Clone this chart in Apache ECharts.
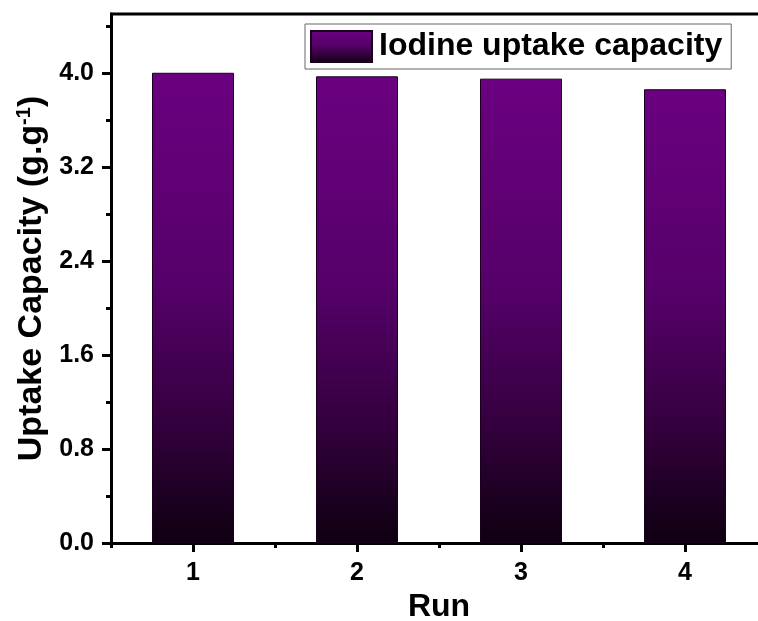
<!DOCTYPE html>
<html><head><meta charset="utf-8">
<script src="https://cdn.jsdelivr.net/npm/echarts@6/dist/echarts.min.js"></script>
<style>html,body{margin:0;padding:0;background:#fff}#c{width:758px;height:621px}</style>
</head><body><div id="c"></div>
<script>
const categories = ['1', '2', '3', '4'];
const uptake = [4.0, 3.97, 3.95, 3.86];
const seriesName = 'Iodine uptake capacity';
const yTicks = [0.0, 0.8, 1.6, 2.4, 3.2, 4.0];
const yMinorTicks = [0.4, 1.2, 2.0, 2.8, 3.6, 4.4];

const chart = echarts.init(document.getElementById('c'), null, {renderer: 'canvas'});
const grad = new echarts.graphic.LinearGradient(0, 0, 0, 1, [
  {offset: 0, color: '#6b0080'},
  {offset: 0.45, color: '#56006a'},
  {offset: 0.75, color: '#33003d'},
  {offset: 1, color: '#0e0010'}
]);
const font = '"Liberation Sans", Arial, sans-serif';
const lbl = {fontFamily: font, fontWeight: 'bold', fontSize: 25, color: '#000'};
chart.setOption({
  animation: false,
  grid: {left: 111, right: -9, top: 14, bottom: 78, containLabel: false, outerBoundsMode: 'none'},
  legend: {
    data: [{name: seriesName, icon: 'rect'}], left: 305, top: 24, itemWidth: 61, itemHeight: 31,
    padding: [6, 9, 6, 5], itemGap: 0,
    borderColor: '#666', borderWidth: 1, borderRadius: 0,
    textStyle: {fontFamily: font, fontWeight: 'bold', fontSize: 32, lineHeight: 33, color: '#000', padding: [0, 0, 0, 2]}
  },
  xAxis: [{
    type: 'category', data: categories, boundaryGap: true,
    name: 'Run', nameLocation: 'middle', nameGap: 45,
    nameTextStyle: {fontFamily: font, fontWeight: 'bold', fontSize: 32, color: '#000'},
    axisLine: {lineStyle: {color: '#000', width: 3}},
    axisTick: {show: true, alignWithLabel: true, length: 9, lineStyle: {width: 3, color: '#000'}},
    axisLabel: Object.assign({margin: 18}, lbl)
  }, {
    type: 'category', data: categories, boundaryGap: true, position: 'bottom',
    axisLine: {show: false},
    axisTick: {show: true, alignWithLabel: false, interval: 0, length: 5, lineStyle: {width: 3, color: '#000'}},
    axisLabel: {show: false}
  }],
  yAxis: [{
    type: 'value', min: 0, max: 4.5,
    name: 'Uptake Capacity (g.g{sup|-1})', nameLocation: 'middle', nameGap: 60,
    nameTextStyle: {fontFamily: font, fontWeight: 'bold', fontSize: 34, color: '#000',
      rich: {sup: {fontFamily: font, fontWeight: 'bold', fontSize: 20, color: '#000', verticalAlign: 'top', padding: [0, 0, 14, 0]}}},
    axisLine: {show: true, lineStyle: {color: '#000', width: 3}},
    axisTick: {show: true, length: 9, customValues: yTicks, lineStyle: {width: 3, color: '#000'}},
    splitLine: {show: false},
    axisLabel: Object.assign({margin: 17, customValues: yTicks, formatter: v => Number(v).toFixed(1)}, lbl)
  }, {
    type: 'value', min: 0, max: 4.5, position: 'left',
    axisLine: {show: false},
    axisTick: {show: true, length: 5, customValues: yMinorTicks, lineStyle: {width: 3, color: '#000'}},
    axisLabel: {show: false}, splitLine: {show: false}
  }],
  series: [{
    name: seriesName, type: 'bar', data: uptake, barWidth: '50%',
    itemStyle: {color: grad, borderColor: '#1a001e', borderWidth: 1}
  }],
  graphic: [{
    type: 'line', z: 10,
    shape: {x1: 110, y1: 14, x2: 758, y2: 14},
    style: {stroke: '#000', lineWidth: 3}
  }]
});
</script></body></html>
